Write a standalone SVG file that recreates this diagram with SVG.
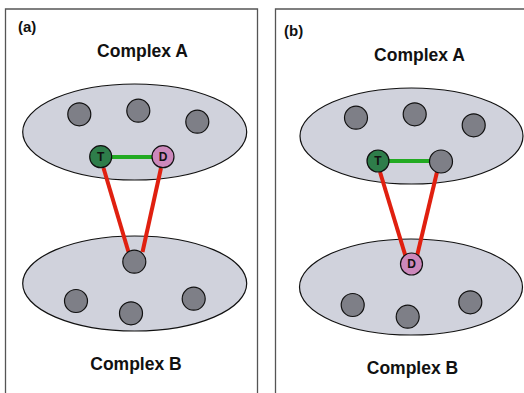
<svg xmlns="http://www.w3.org/2000/svg" width="524" height="393" viewBox="0 0 524 393">
<style>
.frame{fill:none;stroke:#555;stroke-width:1.3}
.cx{fill:#d0d2dc;stroke:#111;stroke-width:1.2}
.g{fill:#7e7f87;stroke:#111;stroke-width:1.2}
.t{fill:#2e7d4a;stroke:#111;stroke-width:1.2}
.d{fill:#cc88bb;stroke:#111;stroke-width:1.2}
.red{stroke:#e02010;stroke-width:4;fill:none}
.grn{stroke:#22aa22;stroke-width:4;fill:none}
.lab{font-family:"Liberation Sans",Arial,sans-serif;font-weight:bold;fill:#111}
.title{font-size:17.5px;text-anchor:middle}
.pl{font-size:15px}
.nl{font-size:12px;text-anchor:middle}
</style>
<rect width="524" height="393" fill="#fff"/>
<path class="frame" d="M5.5,400 V9 H257.5 V400"/>
<path class="frame" d="M275.5,400 V9 H530"/>
<text class="lab pl" x="18" y="32">(a)</text>
<text class="lab pl" x="284" y="36">(b)</text>
<text class="lab title" x="142.5" y="57">Complex A</text>
<text class="lab title" x="136" y="370">Complex B</text>
<text class="lab title" x="419.5" y="61">Complex A</text>
<text class="lab title" x="412.5" y="374">Complex B</text>
<g id="a-complexA"><ellipse class="cx" cx="134.7" cy="132" rx="112" ry="48"/></g>
<g id="a-complexB"><ellipse class="cx" cx="134.7" cy="283.5" rx="112" ry="47.5"/></g>
<g id="b-complexA"><ellipse class="cx" cx="411.5" cy="136" rx="111.5" ry="48"/></g>
<g id="b-complexB"><ellipse class="cx" cx="411" cy="287" rx="111.5" ry="48"/></g>
<g id="connectors">
<line class="red" x1="103.5" y1="168" x2="128.5" y2="252"/>
<line class="red" x1="161" y1="168" x2="142.5" y2="252"/>
<line class="grn" x1="101" y1="157" x2="163" y2="157"/>
<line class="red" x1="380" y1="172" x2="405.5" y2="256"/>
<line class="red" x1="437" y1="172" x2="417" y2="256"/>
<line class="grn" x1="378" y1="161" x2="441" y2="161"/>
</g>
<g id="a-n1"><circle class="g" cx="79.3" cy="114.3" r="11.5"/></g>
<g id="a-n2"><circle class="g" cx="138.3" cy="110.7" r="11.5"/></g>
<g id="a-n3"><circle class="g" cx="197.3" cy="121.7" r="11.5"/></g>
<g id="a-T"><circle class="t" cx="100.7" cy="156.7" r="11"/><text class="lab nl" x="100.7" y="161">T</text></g>
<g id="a-D"><circle class="d" cx="163" cy="156.7" r="11"/><text class="lab nl" x="163" y="161">D</text></g>
<g id="a-n4"><circle class="g" cx="134.3" cy="261.7" r="11.5"/></g>
<g id="a-n5"><circle class="g" cx="76" cy="301" r="11.5"/></g>
<g id="a-n6"><circle class="g" cx="131" cy="313.3" r="11.5"/></g>
<g id="a-n7"><circle class="g" cx="193.7" cy="298.7" r="11.5"/></g>
<g id="b-n1"><circle class="g" cx="356" cy="117.7" r="11.5"/></g>
<g id="b-n2"><circle class="g" cx="414.7" cy="114.3" r="11.5"/></g>
<g id="b-n3"><circle class="g" cx="473.7" cy="125.3" r="11.5"/></g>
<g id="b-T"><circle class="t" cx="378" cy="161" r="11"/><text class="lab nl" x="378" y="165.3">T</text></g>
<g id="b-n4"><circle class="g" cx="441" cy="161.5" r="11.5"/></g>
<g id="b-D"><circle class="d" cx="411.5" cy="264" r="11"/><text class="lab nl" x="411.5" y="268.3">D</text></g>
<g id="b-n5"><circle class="g" cx="352.7" cy="305" r="11.5"/></g>
<g id="b-n6"><circle class="g" cx="407.7" cy="316.7" r="11.5"/></g>
<g id="b-n7"><circle class="g" cx="470.3" cy="302.3" r="11.5"/></g>
</svg>
